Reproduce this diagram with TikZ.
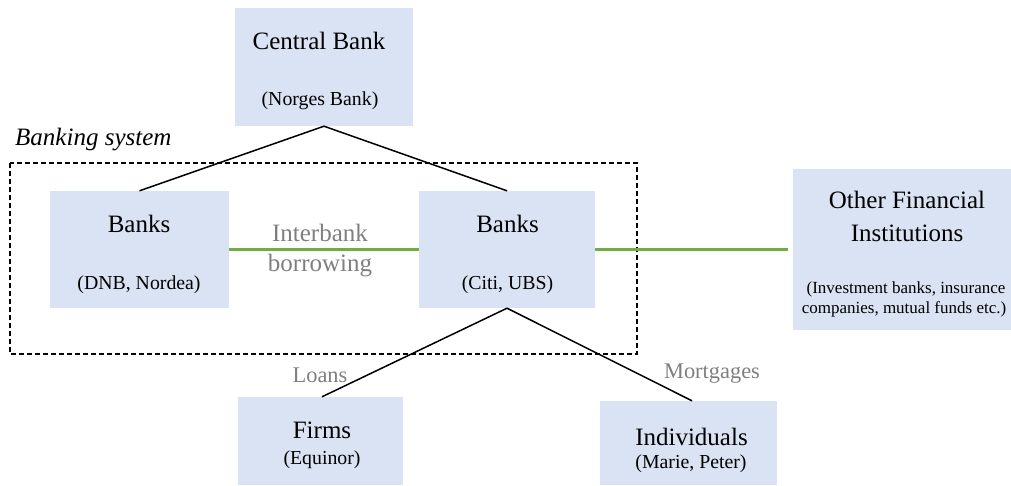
\documentclass[tikz,border=0pt]{standalone}
\usepackage{fontspec}
\setmainfont{Liberation Serif}
\definecolor{boxfill}{HTML}{DAE3F3}
\definecolor{labgrey}{HTML}{7F7F7F}
\definecolor{linkgreen}{HTML}{70AD47}
\tikzset{
  box/.style={rectangle, fill=boxfill, draw=none, inner sep=0pt},
  txt/.style={inner sep=0pt, anchor=base},
  ttl/.style={txt, font=\fontsize{25}{30}\selectfont},
  sub/.style={txt, font=\fontsize{19.8}{24}\selectfont},
  smallsub/.style={txt, font=\fontsize{17}{20}\selectfont},
  lab/.style={txt, font=\fontsize{22.4}{26}\selectfont, text=labgrey},
  glab/.style={txt, font=\fontsize{25}{30}\selectfont, text=labgrey},
  conn/.style={draw=black, line width=1.5pt},
  glink/.style={draw=linkgreen, line width=3pt},
  sysframe/.style={draw=black, line width=1.2pt, dash pattern=on 5pt off 3pt}
}
\begin{document}
\begin{tikzpicture}[x=1pt, y=-1pt]
\useasboundingbox (0,0) rectangle (1011,486);
% boxes
\node[box, minimum width=178pt, minimum height=118pt] (cb) at (324,67) {};
\node[box, minimum width=179pt, minimum height=117pt] (lb) at (139.5,249.5) {};
\node[box, minimum width=176pt, minimum height=117pt] (rb) at (507,249.5) {};
\node[box, minimum width=218pt, minimum height=161pt] (ofi) at (902,249.5) {};
\node[box, minimum width=165pt, minimum height=88pt] (fm) at (320.5,441) {};
\node[box, minimum width=177pt, minimum height=84pt] (ind) at (688.5,443) {};
% banking system frame
\coordinate (fr1) at (10,163);
\coordinate (fr2) at (637,354);
\draw[sysframe] (fr1) rectangle (fr2);
\node[txt, anchor=base west, font=\fontsize{25}{30}\selectfont\itshape] (bs) at (15,146) {Banking system};
% connectors
\draw[conn] (cb.south) -- (lb.north);
\draw[conn] (cb.south) -- (rb.north);
\draw[conn] (rb.south) -- ([xshift=1.5pt]fm.north);
\draw[conn] (rb.south) -- ([xshift=3.5pt]ind.north);
\draw[glink] (lb.east) -- (rb.west);
\draw[glink] (rb.east) -- ([xshift=-5pt]ofi.west);
% texts
\node[ttl] (cbt) at (319,49.5) {Central Bank};
\node[sub] (cbs) at (320,105.5) {(Norges Bank)};
\node[ttl] (lbt) at (139,233) {Banks};
\node[sub] (lbs) at (139,289.5) {(DNB, Nordea)};
\node[ttl] (rbt) at (507.5,233) {Banks};
\node[sub] (rbs) at (507.5,289.5) {(Citi, UBS)};
\node[glab] (ib1) at (320,241) {Interbank};
\node[glab] (ib2) at (320,271) {borrowing};
\node[ttl] (ofit1) at (907,209) {Other Financial};
\node[ttl] (ofit2) at (907,241) {Institutions};
\node[smallsub] (ofis1) at (906,293) {(Investment banks, insurance};
\node[smallsub] (ofis2) at (904,313) {companies, mutual funds etc.)};
\node[ttl] (fmt) at (322,438) {Firms};
\node[sub] (fms) at (322,464.5) {(Equinor)};
\node[ttl] (indt) at (691.5,445) {Individuals};
\node[sub] (inds) at (691,468.5) {(Marie, Peter)};
\node[lab] (loans) at (320,382) {Loans};
\node[lab] (mort) at (712,378) {Mortgages};
\end{tikzpicture}
\end{document}
